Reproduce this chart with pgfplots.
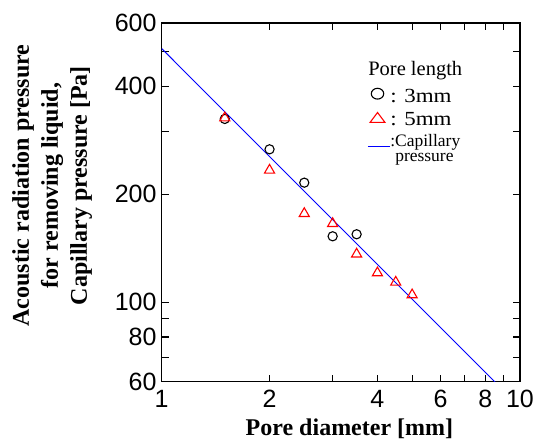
\documentclass[border=0pt]{standalone}
\usepackage{fontspec}
\setmainfont{Liberation Serif}
\newfontfamily\arial{Liberation Sans}
\newfontfamily\legfont{Liberation Serif}[FakeStretch=1.15]
\usepackage{pgfplots}
\pgfplotsset{compat=1.18}
\begin{document}
\begin{tikzpicture}
\begin{axis}[
  name=ax,
  xmode=log, ymode=log,
  scale only axis, width=358.3pt, height=358.4pt,
  xmin=1, xmax=10, ymin=60, ymax=600,
  axis line style={line width=1.6pt},
  tick style={line width=1.2pt, black},
  tick align=inside,
  major tick length=7pt,
  xtick={1,2,3,4,5,6,7,8,9,10},
  xticklabels={1,2,,4,,6,,8,,10},
  ytick={60,70,80,90,100,200,300,400,500,600},
  yticklabels={60,,80,,100,200,,400,,600},
  minor xtick={}, minor ytick={},
  ticklabel style={font=\arial\fontsize{25}{25}\selectfont},
  xticklabel style={anchor=north, inner sep=0pt, yshift=-8pt},
  yticklabel style={anchor=east, inner sep=0pt, xshift=-5pt},
  xlabel={Pore diameter [mm]},
  xlabel style={font=\bfseries\fontsize{24}{28}\selectfont, inner sep=0pt,
    at={(axis description cs:0.524,-0.1515)}, anchor=base},
  ylabel={Acoustic radiation pressure\\for removing liquid,\\Capillary pressure [Pa]},
  ylabel style={font=\bfseries\fontsize{24}{29}\selectfont, align=center, inner sep=0pt,
    at={(axis description cs:-0.306,0.547)}, anchor=center},
  legend style={at={(axis description cs:0.574,0.8186)}, anchor=north west,
    draw=none, fill=none, inner sep=0pt, outer sep=0pt, row sep=0pt,
    font=\legfont\fontsize{20}{24}\selectfont,
    nodes={inner sep=0pt}},
  legend cell align=left,
]
\addplot[only marks, mark=o, mark size=4.6pt, black, line width=1.1pt,
  legend image code/.code={\draw[black, line width=1.1pt, mark=o, only marks, mark size=5.4pt, mark options={xscale=1.15}] plot coordinates {(9.7pt,6.5pt)};}]
  coordinates {(1.5,324.5) (2,267) (2.5,215.5) (3,152.7) (3.5,154.7)};
\addlegendentry[text height=14pt, text depth=8.7pt]{: 3mm}
\addplot[only marks, mark=triangle, mark size=5.8pt, red, line width=1.1pt,
  legend image code/.code={\draw[red, line width=1.1pt, mark=triangle, only marks, mark size=6.6pt, mark options={xscale=1.3}] plot coordinates {(9.7pt,3.8pt)};}]
  coordinates {(1.5,326.7) (2,233.5) (2.5,176.7) (3,165.7) (3.5,136.2) (4,120.7) (4.5,113.7) (5,104.8)};
\addlegendentry[text height=14pt, text depth=8.7pt]{: 5mm}
\addplot[blue, line width=0.9pt,
  legend image code/.code={\draw[blue, line width=0.9pt] (0pt,2.4pt) -- (22pt,2.4pt);}]
  coordinates {(1,510) (10,51)};
\addlegendentry[align=left, font=\fontsize{17.5}{15.3}\selectfont]{:Capillary\\\hspace*{5pt}pressure}
\node[anchor=base west, inner sep=0pt, font=\fontsize{20.5}{24}\selectfont]
  at (axis description cs:0.576,0.853) {Pore length};
\end{axis}
\path (ax.south west) ++(-161.7pt,-59.3pt);
\path (ax.north east) ++(16pt,23.3pt);
\end{tikzpicture}
\end{document}
